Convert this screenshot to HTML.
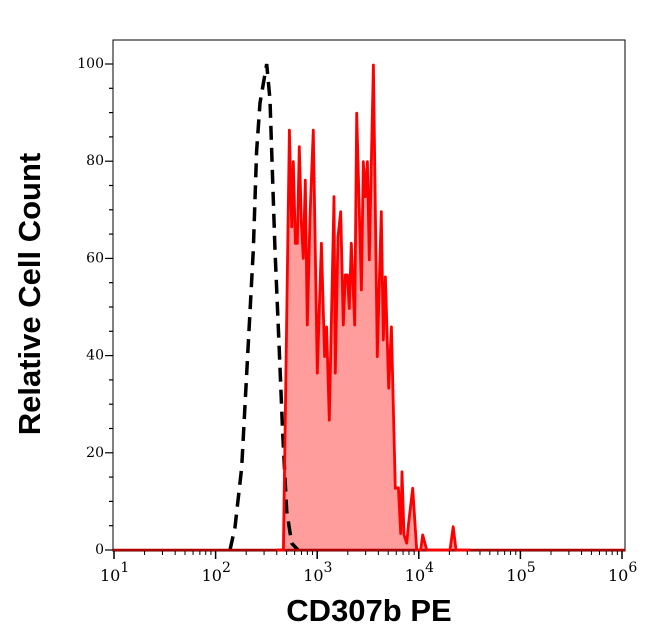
<!DOCTYPE html>
<html><head><meta charset="utf-8"><style>
html,body{margin:0;padding:0;background:#fff;}
svg{display:block;}
.tk{font-family:"DejaVu Serif","Liberation Serif",serif;font-size:14px;fill:#000;}
.xt{font-family:"DejaVu Serif","Liberation Serif",serif;font-size:16px;fill:#000;}
.ttl{font-family:"Liberation Sans",sans-serif;font-weight:bold;font-size:31px;fill:#000;}
</style></head><body>
<svg id="chart" width="646" height="641" xmlns="http://www.w3.org/2000/svg">
<g id="plot"></g>
<text class="ttl" x="369" y="621" text-anchor="middle">CD307b PE</text>
<text class="ttl" x="40" y="294" text-anchor="middle" transform="rotate(-90 40 294)">Relative Cell Count</text>
</svg>
<script>
const stainedLogX=[2.60,2.667,2.726,2.749,2.765,2.785,2.804,2.824,2.844,2.863,2.883,2.903,2.929,2.962,3.001,3.041,3.073,3.093,3.119,3.165,3.178,3.205,3.231,3.257,3.277,3.297,3.316,3.336,3.369,3.389,3.435,3.454,3.474,3.494,3.513,3.553,3.592,3.631,3.651,3.671,3.704,3.730,3.769,3.799,3.822,3.835,3.854,3.881,3.900,3.940,3.979,4.019,4.038,4.078,4.307,4.339,4.366,4.5];
const stainedCount=[0,0,86.4,66.5,79.9,63.1,63.1,83.0,67.2,60.0,76.1,46.3,68.6,86.4,36.4,63.1,39.8,45.9,26.7,72.7,36.4,64.5,69.6,46.3,56.6,56.6,49.7,63.1,46.3,89.9,53.5,79.9,72.7,79.9,59.7,99.8,39.8,69.6,43.2,56.2,33.3,45.9,12.7,12.8,3.4,16.1,3.1,1.4,5.5,12.7,0,0,3.1,0,0,4.8,0,0];
const controlLogX=[2.142,2.191,2.257,2.322,2.371,2.404,2.437,2.503,2.535,2.552,2.585,2.627,2.660,2.700,2.749,2.811];
const controlCount=[0,4.7,17,42.5,61.7,82,92,100,92.6,82,61.7,41,24,8,1.4,0];
const yTicks=[0,20,40,60,80,100];
const xDecades=[1,2,3,4,5,6];

const L=113,R=625,T=40,B=551;
const X=v=>114+(v-1)*101.6;
const Y=c=>550-c*4.86;
const NS='http://www.w3.org/2000/svg';
const g=document.getElementById('plot');
function mk(t,a){const e=document.createElementNS(NS,t);for(const k in a)e.setAttribute(k,a[k]);g.appendChild(e);return e;}

const frame=mk('rect',{x:L,y:T,width:R-L,height:B-T,fill:'none',stroke:'#000','stroke-width':1});



let pts=stainedLogX.map((v,i)=>X(v).toFixed(1)+','+Y(stainedCount[i]).toFixed(1));
const area=mk('polygon',{points:X(stainedLogX[0])+','+Y(0)+' '+pts.join(' ')+' '+X(stainedLogX[stainedLogX.length-1])+','+Y(0),fill:'#ff9c9c',stroke:'none'});



let cp=controlLogX.map((v,i)=>X(v).toFixed(1)+','+Y(controlCount[i]).toFixed(1));
const ctl=mk('polyline',{points:cp.join(' '),fill:'none',stroke:'#000','stroke-width':3.5,'stroke-dasharray':'14,8'});



const base=mk('line',{x1:L,x2:R,y1:Y(0),y2:Y(0),stroke:'#b00000','stroke-width':2.5});



const st=mk('polyline',{points:pts.join(' '),fill:'none',stroke:'#ff0000','stroke-width':2.8,'stroke-linejoin':'round'});



for(let c=0;c<=100;c+=5){
  const major=yTicks.includes(c);
  mk('line',{x1:L-(major?8:4),x2:L,y1:Y(c),y2:Y(c),stroke:'#000','stroke-width':1.2});
}
yTicks.forEach(c=>{
  const t=mk('text',{x:L-9,y:Y(c)+4,'text-anchor':'end',class:'tk'});
  t.textContent=c;
  
  
});
for(let d=1;d<6;d++){for(let m=2;m<10;m++){const x=X(d+Math.log10(m));mk('line',{x1:x,x2:x,y1:B,y2:B+4,stroke:'#000','stroke-width':1});}}
xDecades.forEach(d=>{
  const x=X(d);
  mk('line',{x1:x,x2:x,y1:B,y2:B+8,stroke:'#000','stroke-width':1.5});
  const t=mk('text',{x:x-14,y:B+30,class:'xt'});
  
  
  t.textContent='10';
  const s=document.createElementNS(NS,'tspan');
  s.setAttribute('dy','-9');s.setAttribute('font-size','14');
  s.textContent=d;t.appendChild(s);
});
</script>
</body></html>
